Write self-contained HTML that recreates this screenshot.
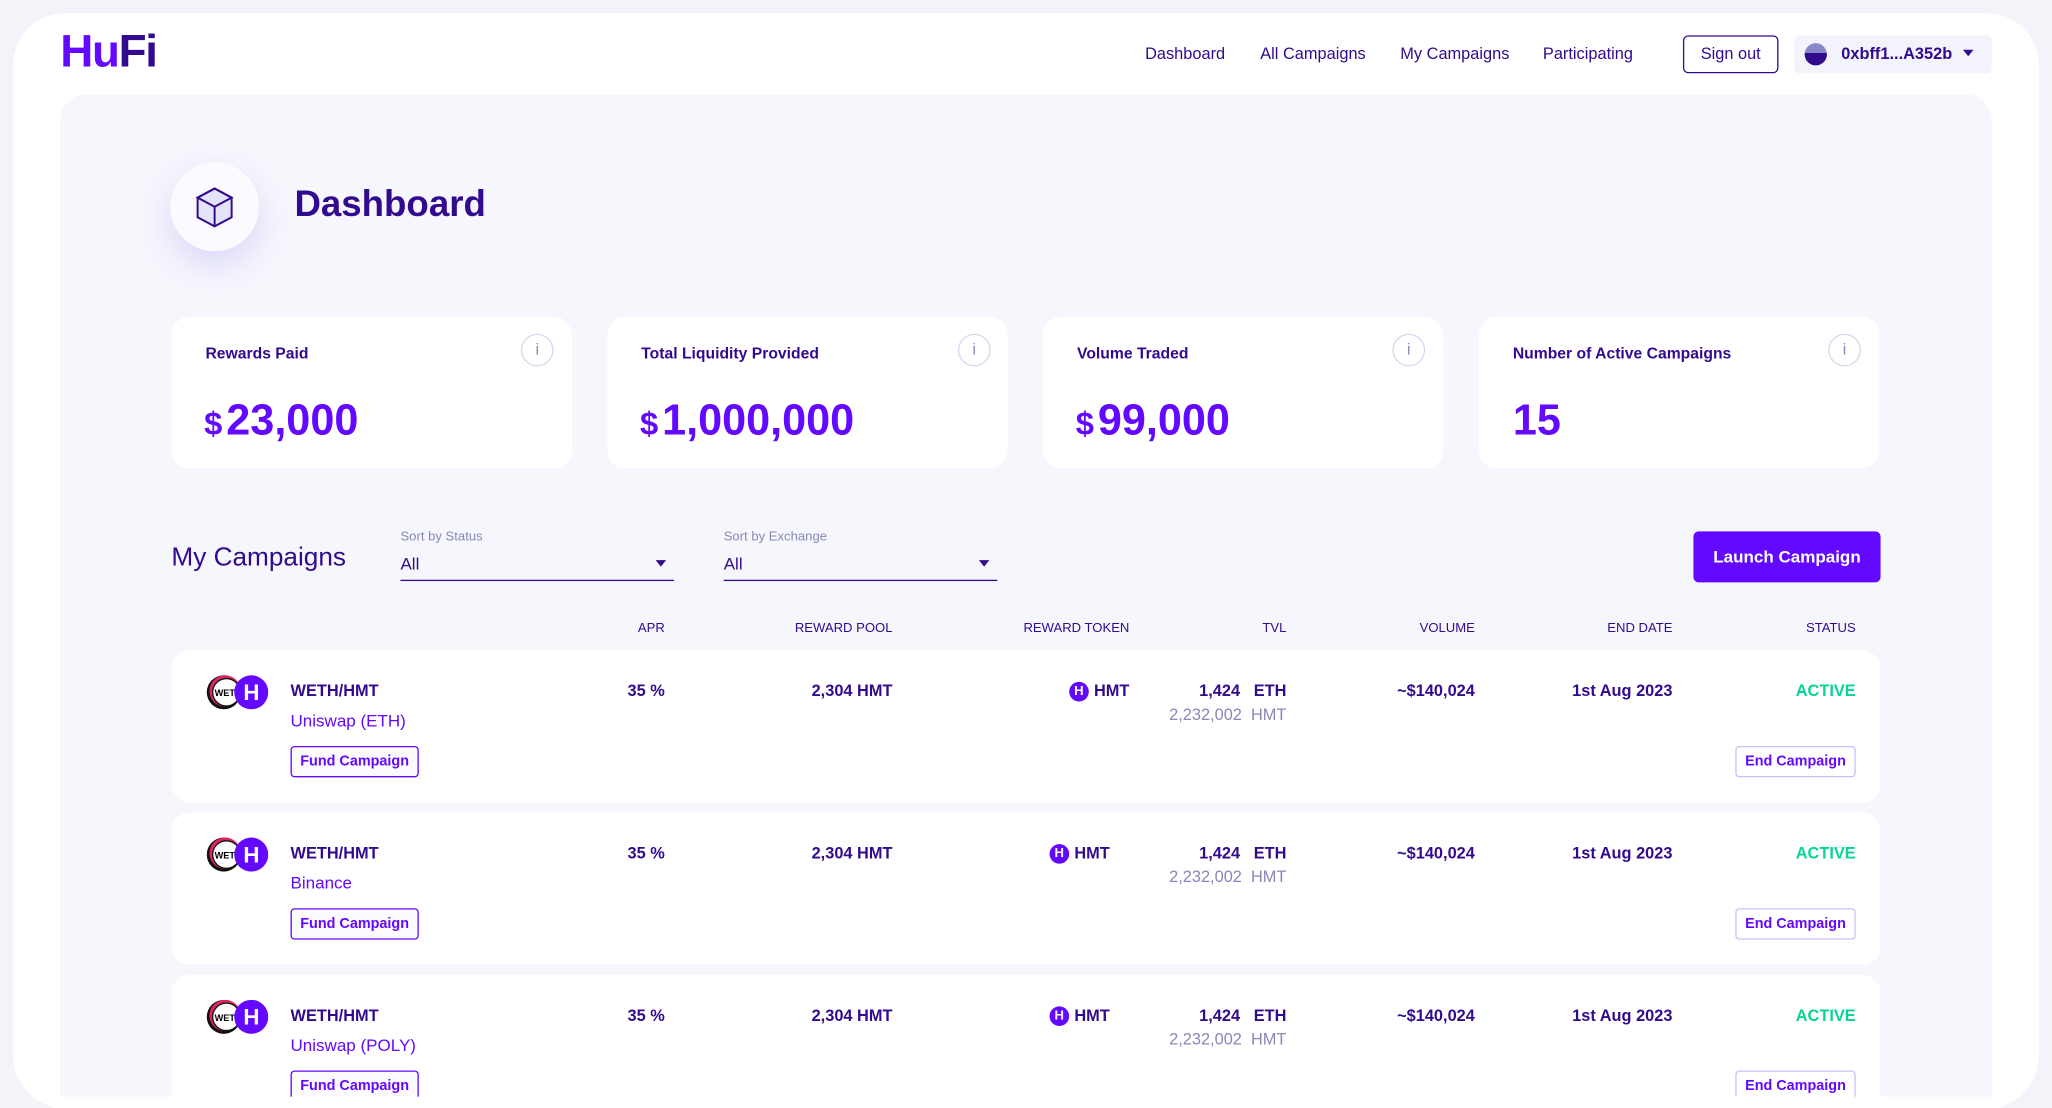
<!DOCTYPE html>
<html><head><meta charset="utf-8"><style>
*{margin:0;padding:0;box-sizing:border-box}
html,body{width:2052px;height:1108px;overflow:hidden;background:#f3f3f9;font-family:"Liberation Sans",sans-serif;}
#w{position:absolute;left:0;top:0;width:1568px;height:847px;transform:scale(1.30867);transform-origin:0 0;overflow:hidden}
.a{position:absolute;white-space:nowrap}
.frame{position:absolute;left:10px;top:10px;width:1548px;height:837px;background:#fff;border-radius:40px}
.panel{position:absolute;left:46px;top:72px;width:1476px;height:766px;background:#f6f6fd;border-radius:20px 20px 0 0}
.nav{font-size:12.5px;color:#320a8d;top:34px}
.card{position:absolute;background:#fff;border-radius:14px}
.lbl{font-size:12px;font-weight:bold;color:#320a8d}
.val{font-size:33px;font-weight:bold;color:#6309ff}
.val small{font-size:25px;margin-right:3px}
.info{position:absolute;width:25px;height:25px;border:1px solid #d6d6ef;border-radius:50%;font-size:12px;color:#8a87b8;text-align:center;line-height:23px}
.hd{font-size:10px;color:#320a8d;top:475px}
.r{text-align:right}
.t{font-size:12.5px;font-weight:bold;color:#320a8d}
.btn{position:absolute;height:24px;border:1px solid #6309ff;border-radius:3px;font-size:11px;font-weight:bold;color:#6309ff;text-align:center;line-height:22px;background:#fafaff}
.ico{position:absolute;width:50px;height:30px}
.hm{display:inline-block;width:15px;height:15px;border-radius:50%;background:#6309ff;color:#fff;font-size:10px;line-height:15px;text-align:center;vertical-align:top;margin-right:4px;font-weight:bold}
</style></head><body><div id="w">
<div class="frame"></div>
<div class="a" style="left:46px;top:20px;font-size:35px;font-weight:bold;letter-spacing:-1px"><span style="color:#6309ff">Hu</span><span style="color:#320a8d">Fi</span></div>
<div class="a nav" style="left:875px">Dashboard</div>
<div class="a nav" style="left:963px">All Campaigns</div>
<div class="a nav" style="left:1070px">My Campaigns</div>
<div class="a nav" style="left:1179px">Participating</div>
<div class="a" style="left:1286px;top:27px;width:73px;height:29px;border:1px solid #320a8d;border-radius:4px;font-size:12.5px;color:#320a8d;text-align:center;line-height:27px">Sign out</div>
<div class="a" style="left:1371px;top:27px;width:151px;height:29px;background:#f3f3fb;border-radius:4px"></div>
<div class="a" style="left:1379px;top:33px;width:17px;height:17px;border-radius:50%;background:linear-gradient(#8a87c8 45%,#320a8d 45%)"></div>
<div class="a" style="left:1407px;top:34px;font-size:12.5px;font-weight:bold;color:#320a8d">0xbff1...A352b</div>
<div class="a" style="left:1500px;top:38px;border:4px solid transparent;border-top:5px solid #320a8d"></div>
<div class="panel"></div>
<div class="a" style="left:130px;top:124px;width:68px;height:68px;border-radius:50%;background:#fafaff;box-shadow:0 10px 24px rgba(120,110,230,.22)"></div>
<svg class="a" style="left:147px;top:140px" width="34" height="36" viewBox="0 0 34 36"><path d="M17 4 L30 11 L30 26 L17 33 L4 26 L4 11Z" fill="#e4e4f8"/><path d="M17 4 L30 11 L17 18 L4 11Z M17 18 L17 33" fill="none" stroke="#320a8d" stroke-width="1.5"/><path d="M17 4 L30 11 L30 26 L17 33 L4 26 L4 11Z" fill="none" stroke="#320a8d" stroke-width="1.5"/></svg>
<div class="a" style="left:225px;top:140px;font-size:28px;font-weight:bold;color:#320a8d">Dashboard</div>

<div class="card" style="left:131px;top:242px;width:306px;height:116px"></div>
<div class="card" style="left:464px;top:242px;width:306px;height:116px"></div>
<div class="card" style="left:797px;top:242px;width:306px;height:116px"></div>
<div class="card" style="left:1130px;top:242px;width:306px;height:116px"></div>
<div class="a lbl" style="left:157px;top:263px">Rewards Paid</div>
<div class="a lbl" style="left:490px;top:263px">Total Liquidity Provided</div>
<div class="a lbl" style="left:823px;top:263px">Volume Traded</div>
<div class="a lbl" style="left:1156px;top:263px">Number of Active Campaigns</div>
<div class="info" style="left:398px;top:255px">i</div>
<div class="info" style="left:732px;top:255px">i</div>
<div class="info" style="left:1064px;top:255px">i</div>
<div class="info" style="left:1397px;top:255px">i</div>
<div class="a val" style="left:156px;top:302px"><small>$</small>23,000</div>
<div class="a val" style="left:489px;top:302px"><small>$</small>1,000,000</div>
<div class="a val" style="left:822px;top:302px"><small>$</small>99,000</div>
<div class="a val" style="left:1156px;top:302px">15</div>

<div class="a" style="left:131px;top:415px;font-size:20px;color:#320a8d">My Campaigns</div>
<div class="a" style="left:306px;top:405px;font-size:10px;color:#8a87b8">Sort by Status</div>
<div class="a" style="left:306px;top:423px;font-size:13px;color:#320a8d">All</div>
<div class="a" style="left:306px;top:443px;width:209px;height:1px;background:#320a8d"></div>
<div class="a" style="left:501px;top:428px;border:4px solid transparent;border-top:5px solid #320a8d"></div>
<div class="a" style="left:553px;top:405px;font-size:10px;color:#8a87b8">Sort by Exchange</div>
<div class="a" style="left:553px;top:423px;font-size:13px;color:#320a8d">All</div>
<div class="a" style="left:553px;top:443px;width:209px;height:1px;background:#320a8d"></div>
<div class="a" style="left:748px;top:428px;border:4px solid transparent;border-top:5px solid #320a8d"></div>
<div class="a" style="left:1294px;top:406px;width:143px;height:39px;background:#6309ff;border-radius:4px;color:#fff;font-size:13px;font-weight:bold;text-align:center;line-height:39px">Launch Campaign</div>

<div class="a hd r" style="left:408px;width:100px">APR</div>
<div class="a hd r" style="left:582px;width:100px">REWARD POOL</div>
<div class="a hd r" style="left:743px;width:120px">REWARD TOKEN</div>
<div class="a hd r" style="left:883px;width:100px">TVL</div>
<div class="a hd r" style="left:1027px;width:100px">VOLUME</div>
<div class="a hd r" style="left:1178px;width:100px">END DATE</div>
<div class="a hd r" style="left:1318px;width:100px">STATUS</div>

<div id="rows"></div>
<script>
var ex=["Uniswap (ETH)","Binance","Uniswap (POLY)"],tr=[863,848,848],h="";
for(var i=0;i<3;i++){var y=497+i*124;
h+='<div class="card" style="left:131px;top:'+y+'px;width:1306px;height:116px"></div>';
h+='<svg class="ico" style="left:155px;top:'+(y+17)+'px" viewBox="0 0 50 30"><circle cx="16" cy="15" r="13" fill="#111"/><circle cx="17" cy="14" r="12" fill="#e0245e"/><circle cx="18" cy="15" r="10.5" fill="#fff" stroke="#111"/><text x="9" y="18" font-size="7" font-weight="bold" font-family="Liberation Sans">WET</text><circle cx="37" cy="15" r="13" fill="#6309ff"/><text x="31" y="21" font-size="17" font-weight="bold" fill="#fff" font-family="Liberation Sans">H</text></svg>';
h+='<div class="a t" style="left:222px;top:'+(y+24)+'px">WETH/HMT</div>';
h+='<div class="a" style="left:222px;top:'+(y+46)+'px;font-size:13px;color:#6309ff">'+ex[i]+'</div>';
h+='<div class="btn" style="left:222px;top:'+(y+73)+'px;width:98px">Fund Campaign</div>';
h+='<div class="a t r" style="left:408px;width:100px;top:'+(y+24)+'px">35 %</div>';
h+='<div class="a t r" style="left:562px;width:120px;top:'+(y+24)+'px">2,304 HMT</div>';
h+='<div class="a t r" style="left:'+(tr[i]-100)+'px;width:100px;top:'+(y+24)+'px"><span class="hm">H</span>HMT</div>';
h+='<div class="a t r" style="left:853px;width:130px;top:'+(y+24)+'px">1,424&nbsp;&nbsp; ETH</div>';
h+='<div class="a r" style="left:853px;width:130px;top:'+(y+42)+'px;font-size:12.5px;color:#8a87b8">2,232,002&nbsp; HMT</div>';
h+='<div class="a t r" style="left:1007px;width:120px;top:'+(y+24)+'px">~$140,024</div>';
h+='<div class="a t r" style="left:1158px;width:120px;top:'+(y+24)+'px">1st Aug 2023</div>';
h+='<div class="a r" style="left:1318px;width:100px;top:'+(y+24)+'px;font-size:12.5px;font-weight:bold;color:#0ad397">ACTIVE</div>';
h+='<div class="btn" style="left:1326px;top:'+(y+73)+'px;width:92px;border-color:#c9c2f2;background:#fff">End Campaign</div>';}
document.getElementById("rows").innerHTML=h;
</script>
<div class="a" style="left:40px;top:838px;width:1490px;height:20px;background:#fff"></div>
</div></body></html>
